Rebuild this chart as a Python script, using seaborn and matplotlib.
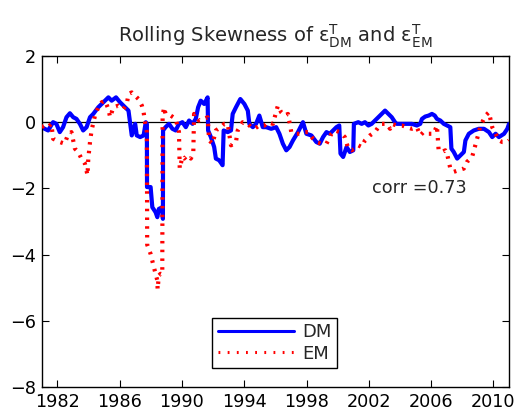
import matplotlib
matplotlib.use("Agg")
import matplotlib.pyplot as plt
import seaborn as sns
import pandas as pd

# ---- data ----
dm_year = [1981.00, 1981.19, 1981.41, 1981.73, 1981.94, 1982.16, 1982.37, 1982.59, 1982.81, 1983.02,
           1983.23, 1983.45, 1983.66, 1983.88, 1984.10, 1984.31, 1984.63, 1984.95, 1985.28, 1985.49,
           1985.77, 1986.03, 1986.35, 1986.57, 1986.68, 1986.78, 1987.00, 1987.10, 1987.32, 1987.54,
           1987.68, 1987.75, 1987.76, 1987.99, 1988.10, 1988.31, 1988.42, 1988.52, 1988.74, 1988.78,
           1988.79, 1988.95, 1989.17, 1989.39, 1989.60, 1989.81, 1990.03, 1990.25, 1990.46, 1990.68,
           1990.89, 1991.04, 1991.21, 1991.43, 1991.65, 1991.68, 1991.86, 1992.07, 1992.18, 1992.39,
           1992.61, 1992.68, 1992.94, 1993.15, 1993.26, 1993.47, 1993.75, 1994.01, 1994.23, 1994.33,
           1994.55, 1994.76, 1994.97, 1995.19, 1995.41, 1995.73, 1996.05, 1996.26, 1996.48, 1996.70,
           1996.91, 1997.13, 1997.45, 1997.77, 1997.99, 1998.31, 1998.63, 1998.85, 1999.06, 1999.28,
           1999.49, 1999.71, 1999.92, 2000.10, 2000.18, 2000.35, 2000.57, 2000.78, 2001.00, 2001.04,
           2001.32, 2001.54, 2001.75, 2001.97, 2002.18, 2002.39, 2002.61, 2002.83, 2003.04, 2003.26,
           2003.47, 2003.68, 2003.79, 2004.12, 2004.44, 2004.76, 2005.08, 2005.30, 2005.41, 2005.62,
           2005.84, 2006.05, 2006.23, 2006.37, 2006.59, 2006.81, 2007.02, 2007.23, 2007.30, 2007.45,
           2007.67, 2007.88, 2008.10, 2008.20, 2008.42, 2008.74, 2009.06, 2009.39, 2009.71, 2009.92,
           2010.14, 2010.35, 2010.68, 2010.89, 2011.00]
dm_skew = [-0.15, -0.20, -0.25, 0.00, -0.05, -0.30, -0.15, 0.15, 0.27, 0.15,
           0.10, -0.05, -0.25, -0.15, 0.15, 0.25, 0.45, 0.60, 0.75, 0.65,
           0.75, 0.60, 0.45, 0.35, -0.05, -0.40, -0.05, -0.40, -0.45, -0.40,
           0.00, -0.05, -1.96, -1.96, -2.57, -2.72, -2.87, -2.62, -2.57, -2.92,
           -0.25, -0.15, -0.05, -0.20, -0.25, -0.05, 0.00, -0.15, 0.05, -0.05,
           0.10, 0.45, 0.65, 0.55, 0.75, -0.25, -0.45, -0.75, -1.10, -1.15,
           -1.30, -0.25, -0.30, -0.25, 0.25, 0.45, 0.70, 0.55, 0.35, -0.05,
           -0.15, -0.05, 0.20, -0.15, -0.15, -0.20, -0.15, -0.35, -0.65, -0.85,
           -0.75, -0.55, -0.30, 0.00, -0.35, -0.40, -0.60, -0.65, -0.45, -0.30,
           -0.35, -0.25, -0.15, -0.10, -0.95, -1.05, -0.75, -0.90, -0.85, -0.05,
           0.00, -0.05, 0.00, -0.10, -0.05, 0.05, 0.15, 0.25, 0.35, 0.25,
           0.15, 0.00, -0.05, -0.05, -0.05, -0.05, -0.10, -0.05, 0.10, 0.17,
           0.20, 0.25, 0.20, 0.10, 0.05, -0.05, -0.10, -0.15, -0.80, -0.90,
           -1.10, -1.00, -0.90, -0.55, -0.35, -0.25, -0.20, -0.20, -0.30, -0.45,
           -0.35, -0.45, -0.35, -0.20, -0.05]

em_year = [1981.00, 1981.19, 1981.41, 1981.62, 1981.73, 1981.94, 1982.16, 1982.48, 1982.70, 1982.91,
           1983.13, 1983.34, 1983.55, 1983.77, 1983.94, 1983.99, 1984.10, 1984.20, 1984.42, 1984.63,
           1984.85, 1985.06, 1985.28, 1985.39, 1985.60, 1985.92, 1986.25, 1986.46, 1986.57, 1986.78,
           1987.00, 1987.21, 1987.43, 1987.54, 1987.65, 1987.75, 1987.77, 1987.99, 1988.20, 1988.42,
           1988.44, 1988.52, 1988.63, 1988.74, 1988.76, 1988.85, 1988.95, 1989.28, 1989.60, 1989.81,
           1989.86, 1990.03, 1990.14, 1990.35, 1990.57, 1990.73, 1990.78, 1991.10, 1991.43, 1991.65,
           1991.75, 1991.97, 1992.18, 1992.50, 1992.72, 1992.94, 1993.15, 1993.47, 1993.58, 1993.90,
           1994.23, 1994.44, 1994.65, 1994.97, 1995.30, 1995.52, 1995.84, 1996.16, 1996.37, 1996.59,
           1996.81, 1997.02, 1997.24, 1997.55, 1997.88, 1998.10, 1998.42, 1998.63, 1998.95, 1999.28,
           1999.60, 1999.81, 2000.14, 2000.46, 2000.68, 2000.89, 2001.10, 2001.32, 2001.54, 2001.75,
           2002.07, 2002.39, 2002.61, 2002.83, 2003.15, 2003.36, 2003.47, 2003.79, 2004.12, 2004.44,
           2004.76, 2005.08, 2005.30, 2005.51, 2005.84, 2006.16, 2006.37, 2006.48, 2006.69, 2006.91,
           2007.02, 2007.23, 2007.45, 2007.77, 2008.10, 2008.30, 2008.52, 2008.63, 2008.95, 2009.17,
           2009.28, 2009.49, 2009.71, 2009.92, 2010.14, 2010.35, 2010.57, 2010.89, 2011.00]
em_skew = [-0.15, -0.10, -0.15, -0.05, -0.50, -0.55, -0.60, -0.65, -0.35, -0.30,
           -0.80, -0.90, -1.10, -1.25, -1.60, -1.10, -0.60, -0.25, 0.20, 0.45,
           0.60, 0.65, 0.40, 0.15, 0.45, 0.50, 0.40, 0.55, 0.85, 0.90,
           0.80, 0.70, 0.50, 0.30, -0.05, -0.30, -3.70, -3.98, -4.38, -4.78,
           -5.05, -4.63, -4.58, -4.60, 0.15, 0.45, 0.25, 0.20, 0.10, -0.30,
           -1.40, -1.05, -1.10, -1.00, -1.10, -0.95, 0.25, 0.05, 0.10, 0.15,
           -0.55, -0.65, -0.25, -0.15, -0.05, -0.05, -0.70, -0.60, -0.25, 0.00,
           -0.05, -0.15, -0.20, -0.10, -0.10, 0.00, -0.05, 0.50, 0.30, 0.20,
           0.25, -0.30, -0.35, -0.35, -0.30, -0.30, -0.50, -0.60, -0.65, -0.65,
           -0.35, -0.25, -0.30, -0.45, -0.80, -0.85, -0.80, -0.70, -0.75, -0.55,
           -0.40, -0.30, -0.15, -0.05, -0.05, -0.20, -0.05, -0.10, -0.10, -0.15,
           -0.20, -0.15, -0.40, -0.30, -0.35, -0.35, -0.10, -0.85, -0.90, -0.85,
           -0.95, -1.40, -1.50, -1.45, -1.40, -1.20, -1.10, -1.05, -0.50, -0.10,
           0.00, 0.20, 0.30, -0.15, -0.35, -0.55, -0.60, -0.60, -0.55]

series_labels = ["DM", "EM"]
x_ticks = [1982, 1986, 1990, 1994, 1998, 2002, 2006, 2010]
y_ticks = [-8, -6, -4, -2, 0, 2]
corr_text = "corr =0.73"
title_text = (r"Rolling Skewness of $\mathrm{\varepsilon}^{\mathrm{T}}_{\mathrm{DM}}$"
              r" and $\mathrm{\varepsilon}^{\mathrm{T}}_{\mathrm{EM}}$")

# ---- style ----
sns.set_style("ticks")
plt.rcParams["font.family"] = ["DejaVu Sans"]
plt.rcParams["mathtext.fontset"] = "dejavusans"

fig = plt.figure(figsize=(5.17, 4.15), dpi=100)
ax = fig.add_axes([0.0807, 0.0675, 0.9039, 0.7976])

dm_df = pd.DataFrame({"year": dm_year, "skew": dm_skew})
em_df = pd.DataFrame({"year": em_year, "skew": em_skew})

ax.axhline(0, color="black", lw=0.9, zorder=1)
sns.lineplot(data=dm_df, x="year", y="skew", ax=ax, color="#0000ff", lw=3.0,
             sort=False, estimator=None, label=series_labels[0], zorder=2)
sns.lineplot(data=em_df, x="year", y="skew", ax=ax, color="#ff0000", lw=3.0,
             sort=False, estimator=None, label=series_labels[1], zorder=3,
             dashes=False)
ax.lines[-1].set_dashes([0.6, 1.5])

ax.set_xlim(1981, 2011)
ax.set_ylim(-8, 2)
ax.set_xticks(x_ticks)
ax.set_yticks(y_ticks)
ax.set_xlabel("")
ax.set_ylabel("")
for s in ax.spines.values():
    s.set_visible(True)
    s.set_linewidth(1.0)
    s.set_color("black")
ax.tick_params(direction="in", length=5, width=0.8, top=True, right=True,
               labelsize=12.7, colors="black", pad=4)

ax.text(2002.2, -2.0, corr_text, fontsize=12.7, va="center", ha="left")
ax.set_title(title_text, fontsize=14, pad=10)

leg = ax.legend(loc="lower center", bbox_to_anchor=(0.499, 0.03), fontsize=13,
                frameon=True, fancybox=False, edgecolor="black", framealpha=1,
                handlelength=4.2, borderpad=0.3, labelspacing=0.2, handletextpad=0.5)
leg.get_frame().set_linewidth(1.0)
for h in leg.get_lines():
    h.set_linewidth(2.2)
leg.get_lines()[1].set_dashes([0.6, 2.4])

fig.savefig("out.png", dpi=100)
